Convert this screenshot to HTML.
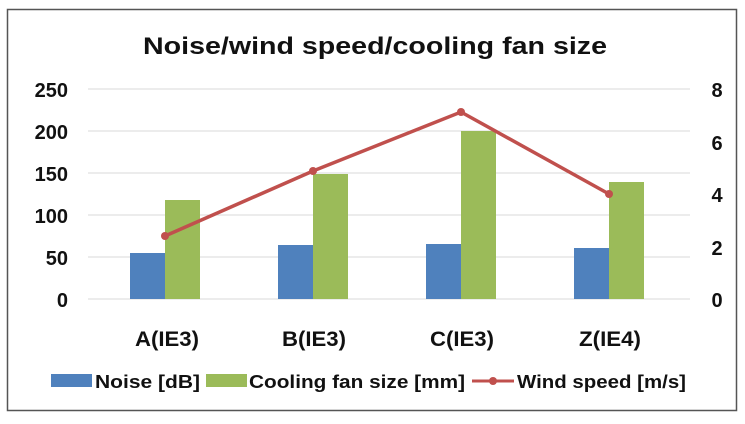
<!DOCTYPE html>
<html><head><style>
body{margin:0;background:#fff;}
svg text{font-family:"Liberation Sans",sans-serif;font-weight:bold;fill:#111;}
</style></head><body>
<svg width="745" height="419" viewBox="0 0 745 419" xmlns="http://www.w3.org/2000/svg">
<rect x="7.5" y="9.5" width="729" height="401" fill="#fff" stroke="#555" stroke-width="1.5"/>
<text x="143" y="54" font-size="24" textLength="464" lengthAdjust="spacingAndGlyphs">Noise/wind speed/cooling  fan size</text>
<g stroke="#d9d9d9" stroke-width="1">
<line x1="88" x2="690" y1="89" y2="89"/><line x1="88" x2="690" y1="131" y2="131"/><line x1="88" x2="690" y1="173" y2="173"/><line x1="88" x2="690" y1="215" y2="215"/><line x1="88" x2="690" y1="257" y2="257"/><line x1="88" x2="690" y1="299" y2="299"/>
</g>
<g font-size="20" text-anchor="end">
<text x="68" y="97">250</text><text x="68" y="139">200</text><text x="68" y="181">150</text><text x="68" y="223">100</text><text x="68" y="265">50</text><text x="68" y="307">0</text>
</g>
<g font-size="20" text-anchor="middle">
<text x="717" y="97">8</text><text x="717" y="150">6</text><text x="717" y="202">4</text><text x="717" y="255">2</text><text x="717" y="307">0</text>
</g>
<g fill="#4f81bd">
<rect x="130" y="253" width="35" height="46"/><rect x="278" y="245" width="35" height="54"/><rect x="426" y="244" width="35" height="55"/><rect x="574" y="248" width="35" height="51"/>
</g>
<g fill="#9bbb59">
<rect x="165" y="200" width="35" height="99"/><rect x="313" y="174" width="35" height="125"/><rect x="461" y="131" width="35" height="168"/><rect x="609" y="182" width="35" height="117"/>
</g>
<polyline points="165,236 313,171 461,112 609,194" fill="none" stroke="#c0504d" stroke-width="3.5"/>
<g fill="#c0504d"><circle cx="165" cy="236" r="4"/><circle cx="313" cy="171" r="4"/><circle cx="461" cy="112" r="4"/><circle cx="609" cy="194" r="4"/></g>
<g font-size="21">
<text x="135" y="346" textLength="64" lengthAdjust="spacingAndGlyphs">A(IE3)</text>
<text x="282" y="346" textLength="64" lengthAdjust="spacingAndGlyphs">B(IE3)</text>
<text x="430" y="346" textLength="64" lengthAdjust="spacingAndGlyphs">C(IE3)</text>
<text x="579" y="346" textLength="62" lengthAdjust="spacingAndGlyphs">Z(IE4)</text>
</g>
<rect x="51" y="374" width="41" height="13" fill="#4f81bd"/>
<text x="95" y="388" font-size="18" textLength="105" lengthAdjust="spacingAndGlyphs">Noise [dB]</text>
<rect x="206" y="374" width="41" height="13" fill="#9bbb59"/>
<text x="249" y="388" font-size="18" textLength="216" lengthAdjust="spacingAndGlyphs">Cooling fan size [mm]</text>
<line x1="472" x2="514" y1="381" y2="381" stroke="#c0504d" stroke-width="3"/>
<circle cx="493" cy="381" r="4" fill="#c0504d"/>
<text x="517" y="388" font-size="18" textLength="169" lengthAdjust="spacingAndGlyphs">Wind speed [m/s]</text>
</svg>
</body></html>
